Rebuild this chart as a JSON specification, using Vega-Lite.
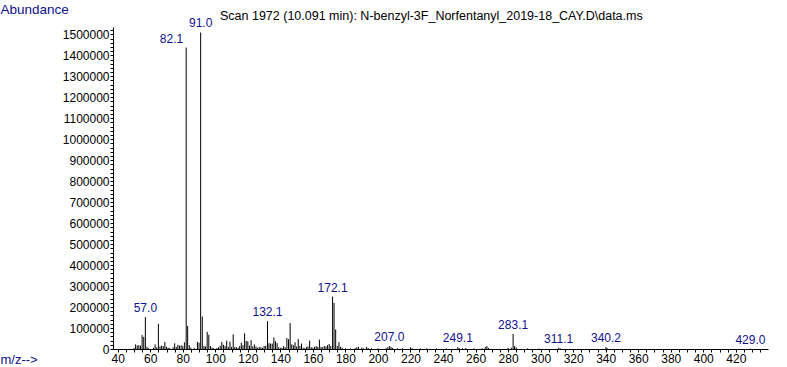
{
  "$schema": "https://vega.github.io/schema/vega-lite/v6.json",
  "autosize": "none",
  "width": 655,
  "height": 322,
  "padding": {"left": 113, "top": 27, "right": 19, "bottom": 18},
  "background": "white",
  "config": {"view": {"stroke": null}},
  "title": {
    "text": "Scan 1972 (10.091 min): N-benzyl-3F_Norfentanyl_2019-18_CAY.D\\data.ms",
    "anchor": "start",
    "frame": "group",
    "dx": 107,
    "dy": 23,
    "offset": 3,
    "font": "Liberation Sans",
    "fontSize": 12.5,
    "fontWeight": "normal",
    "color": "black"
  },
  "datasets": {
    "peaks": [
      {"mz": 50, "ab": 5000}, {"mz": 51, "ab": 22000}, {"mz": 52, "ab": 17000}, {"mz": 53, "ab": 18000},
      {"mz": 54, "ab": 16000}, {"mz": 55, "ab": 66000}, {"mz": 56, "ab": 58000}, {"mz": 57.0, "ab": 152000},
      {"mz": 58, "ab": 10000}, {"mz": 59, "ab": 4000}, {"mz": 62, "ab": 6000}, {"mz": 63, "ab": 22000},
      {"mz": 64, "ab": 8000}, {"mz": 65, "ab": 120000}, {"mz": 66, "ab": 12000}, {"mz": 67, "ab": 16000},
      {"mz": 68, "ab": 14000}, {"mz": 69, "ab": 33000}, {"mz": 70, "ab": 10000}, {"mz": 71, "ab": 6000},
      {"mz": 72, "ab": 5000}, {"mz": 74, "ab": 8000}, {"mz": 75, "ab": 27000}, {"mz": 76, "ab": 10000},
      {"mz": 77, "ab": 20000}, {"mz": 78, "ab": 16000}, {"mz": 79, "ab": 18000}, {"mz": 80, "ab": 14000},
      {"mz": 81, "ab": 32000}, {"mz": 82.1, "ab": 1437000}, {"mz": 83, "ab": 110000}, {"mz": 84, "ab": 18000},
      {"mz": 85, "ab": 6000}, {"mz": 87, "ab": 6000}, {"mz": 89, "ab": 34000}, {"mz": 90, "ab": 30000},
      {"mz": 91.0, "ab": 1509000}, {"mz": 92, "ab": 155000}, {"mz": 93, "ab": 14000}, {"mz": 94, "ab": 12000},
      {"mz": 95, "ab": 82000}, {"mz": 96, "ab": 68000}, {"mz": 97, "ab": 14000}, {"mz": 98, "ab": 6000},
      {"mz": 99, "ab": 4000}, {"mz": 101, "ab": 5000}, {"mz": 102, "ab": 8000}, {"mz": 103, "ab": 15000},
      {"mz": 104, "ab": 34000}, {"mz": 105, "ab": 20000}, {"mz": 106, "ab": 14000}, {"mz": 107, "ab": 40000},
      {"mz": 108, "ab": 10000}, {"mz": 109, "ab": 35000}, {"mz": 110, "ab": 10000}, {"mz": 111, "ab": 70000},
      {"mz": 112, "ab": 10000}, {"mz": 113, "ab": 8000}, {"mz": 114, "ab": 6000}, {"mz": 115, "ab": 14000},
      {"mz": 116, "ab": 30000}, {"mz": 117, "ab": 18000}, {"mz": 118, "ab": 75000}, {"mz": 119, "ab": 38000},
      {"mz": 120, "ab": 37000}, {"mz": 121, "ab": 16000}, {"mz": 122, "ab": 42000}, {"mz": 123, "ab": 12000},
      {"mz": 124, "ab": 22000}, {"mz": 125, "ab": 12000}, {"mz": 126, "ab": 6000}, {"mz": 127, "ab": 10000},
      {"mz": 128, "ab": 8000}, {"mz": 129, "ab": 6000}, {"mz": 130, "ab": 14000}, {"mz": 131, "ab": 16000},
      {"mz": 132.1, "ab": 133000}, {"mz": 133, "ab": 28000}, {"mz": 134, "ab": 25000}, {"mz": 135, "ab": 26000},
      {"mz": 136, "ab": 55000}, {"mz": 137, "ab": 37000}, {"mz": 138, "ab": 28000}, {"mz": 139, "ab": 8000},
      {"mz": 140, "ab": 6000}, {"mz": 141, "ab": 5000}, {"mz": 142, "ab": 14000}, {"mz": 143, "ab": 8000},
      {"mz": 144, "ab": 52000}, {"mz": 145, "ab": 47000}, {"mz": 146, "ab": 124000}, {"mz": 147, "ab": 22000},
      {"mz": 148, "ab": 18000}, {"mz": 149, "ab": 32000}, {"mz": 150, "ab": 12000}, {"mz": 151, "ab": 47000},
      {"mz": 152, "ab": 14000}, {"mz": 153, "ab": 26000}, {"mz": 154, "ab": 6000}, {"mz": 155, "ab": 4000},
      {"mz": 156, "ab": 10000}, {"mz": 157, "ab": 12000}, {"mz": 158, "ab": 40000}, {"mz": 159, "ab": 8000},
      {"mz": 160, "ab": 6000}, {"mz": 161, "ab": 10000}, {"mz": 162, "ab": 14000}, {"mz": 163, "ab": 10000},
      {"mz": 164, "ab": 45000}, {"mz": 165, "ab": 10000}, {"mz": 166, "ab": 8000}, {"mz": 167, "ab": 14000},
      {"mz": 168, "ab": 12000}, {"mz": 169, "ab": 18000}, {"mz": 170, "ab": 24000}, {"mz": 171, "ab": 14000},
      {"mz": 172.1, "ab": 250000}, {"mz": 173, "ab": 220000}, {"mz": 174, "ab": 93000}, {"mz": 175, "ab": 14000},
      {"mz": 176, "ab": 33000}, {"mz": 177, "ab": 10000}, {"mz": 178, "ab": 6000}, {"mz": 180, "ab": 3000},
      {"mz": 183, "ab": 3000}, {"mz": 186, "ab": 4000}, {"mz": 187, "ab": 8000}, {"mz": 188, "ab": 10000},
      {"mz": 190, "ab": 7000}, {"mz": 191, "ab": 4000}, {"mz": 193, "ab": 10000}, {"mz": 194, "ab": 5000},
      {"mz": 196, "ab": 4000}, {"mz": 200, "ab": 3000}, {"mz": 205, "ab": 4000}, {"mz": 206, "ab": 8000},
      {"mz": 207.0, "ab": 14000}, {"mz": 208, "ab": 10000}, {"mz": 209, "ab": 5000}, {"mz": 212, "ab": 3000},
      {"mz": 215, "ab": 3000}, {"mz": 220, "ab": 8000}, {"mz": 221, "ab": 3000}, {"mz": 226, "ab": 3000},
      {"mz": 230, "ab": 3000}, {"mz": 236, "ab": 3000}, {"mz": 242, "ab": 3000}, {"mz": 249.1, "ab": 9000},
      {"mz": 250, "ab": 4000}, {"mz": 252, "ab": 4000}, {"mz": 254, "ab": 5000}, {"mz": 259, "ab": 3000},
      {"mz": 264, "ab": 4000}, {"mz": 266, "ab": 9000}, {"mz": 267, "ab": 14000}, {"mz": 268, "ab": 5000},
      {"mz": 280, "ab": 5000}, {"mz": 282, "ab": 6000}, {"mz": 283.1, "ab": 72000}, {"mz": 284, "ab": 14000},
      {"mz": 285, "ab": 8000}, {"mz": 292, "ab": 3000}, {"mz": 299, "ab": 2000}, {"mz": 311.1, "ab": 6000},
      {"mz": 312, "ab": 3000}, {"mz": 340.2, "ab": 10000}, {"mz": 341, "ab": 3000}, {"mz": 429.0, "ab": 1500}
    ],
    "labels": [
      {"mz": 57.0, "ab": 152000, "label": "57.0"},
      {"mz": 82.1, "ab": 1437000, "label": "82.1"},
      {"mz": 91.0, "ab": 1509000, "label": "91.0"},
      {"mz": 132.1, "ab": 133000, "label": "132.1"},
      {"mz": 172.1, "ab": 250000, "label": "172.1"},
      {"mz": 207.0, "ab": 14000, "label": "207.0"},
      {"mz": 249.1, "ab": 9000, "label": "249.1"},
      {"mz": 283.1, "ab": 72000, "label": "283.1"},
      {"mz": 311.1, "ab": 6000, "label": "311.1"},
      {"mz": 340.2, "ab": 10000, "label": "340.2"},
      {"mz": 429.0, "ab": 1500, "label": "429.0"}
    ]
  },
  "encoding": {
    "x": {
      "field": "mz", "type": "quantitative",
      "scale": {"domain": [37.1, 439.8], "nice": false, "zero": false},
      "axis": {
        "values": [40,45,50,55,60,65,70,75,80,85,90,95,100,105,110,115,120,125,130,135,140,145,150,155,160,165,170,175,180,185,190,195,200,205,210,215,220,225,230,235,240,245,250,255,260,265,270,275,280,285,290,295,300,305,310,315,320,325,330,335,340,345,350,355,360,365,370,375,380,385,390,395,400,405,410,415,420,425,430,435],
        "format": "d",
        "labelExpr": "datum.value % 20 == 0 ? datum.label : ''",
        "labelOverlap": false,
        "labelFlush": false,
        "grid": false,
        "tickSize": 3,
        "tickColor": "black",
        "domainColor": "black",
        "labelColor": "black",
        "labelFont": "Liberation Sans",
        "labelFontSize": 12,
        "labelPadding": 1,
        "title": "m/z-->",
        "titleX": -113,
        "titleY": 10,
        "titleAlign": "left",
        "titleBaseline": "middle",
        "titleAnchor": null,
        "titleColor": "#10108c",
        "titleFont": "Liberation Sans",
        "titleFontSize": 13,
        "titleFontWeight": "normal"
      }
    },
    "y": {
      "field": "ab", "type": "quantitative",
      "scale": {"domain": [0, 1535000], "nice": false},
      "axis": {
        "values": [0,20000,40000,60000,80000,100000,120000,140000,160000,180000,200000,220000,240000,260000,280000,300000,320000,340000,360000,380000,400000,420000,440000,460000,480000,500000,520000,540000,560000,580000,600000,620000,640000,660000,680000,700000,720000,740000,760000,780000,800000,820000,840000,860000,880000,900000,920000,940000,960000,980000,1000000,1020000,1040000,1060000,1080000,1100000,1120000,1140000,1160000,1180000,1200000,1220000,1240000,1260000,1280000,1300000,1320000,1340000,1360000,1380000,1400000,1420000,1440000,1460000,1480000,1500000,1520000],
        "format": "d",
        "labelExpr": "datum.value % 100000 == 0 ? datum.label : ''",
        "labelOverlap": false,
        "labelFlush": false,
        "grid": false,
        "tickSize": 3,
        "tickColor": "black",
        "domainColor": "black",
        "labelColor": "black",
        "labelFont": "Liberation Sans",
        "labelFontSize": 12,
        "labelPadding": 1,
        "title": "Abundance",
        "titleAngle": 0,
        "titleX": -113,
        "titleY": -18,
        "titleAlign": "left",
        "titleBaseline": "middle",
        "titleAnchor": null,
        "titleColor": "#10108c",
        "titleFont": "Liberation Sans",
        "titleFontSize": 13.5,
        "titleFontWeight": "normal"
      }
    }
  },
  "layer": [
    {
      "data": {"name": "peaks"},
      "mark": {"type": "rule", "color": "black", "strokeWidth": 1},
      "encoding": {"y2": {"datum": 0}}
    },
    {
      "data": {"name": "labels"},
      "transform": [{"filter": "datum.label != '82.1'"}],
      "mark": {"type": "text", "baseline": "bottom", "dy": -2, "color": "#10108c", "font": "Liberation Sans", "fontSize": 12},
      "encoding": {"text": {"field": "label"}}
    },
    {
      "data": {"name": "labels"},
      "transform": [{"filter": "datum.label == '82.1'"}],
      "mark": {"type": "text", "baseline": "bottom", "align": "right", "dx": -3, "dy": -2, "color": "#10108c", "font": "Liberation Sans", "fontSize": 12},
      "encoding": {"text": {"field": "label"}}
    }
  ]
}
